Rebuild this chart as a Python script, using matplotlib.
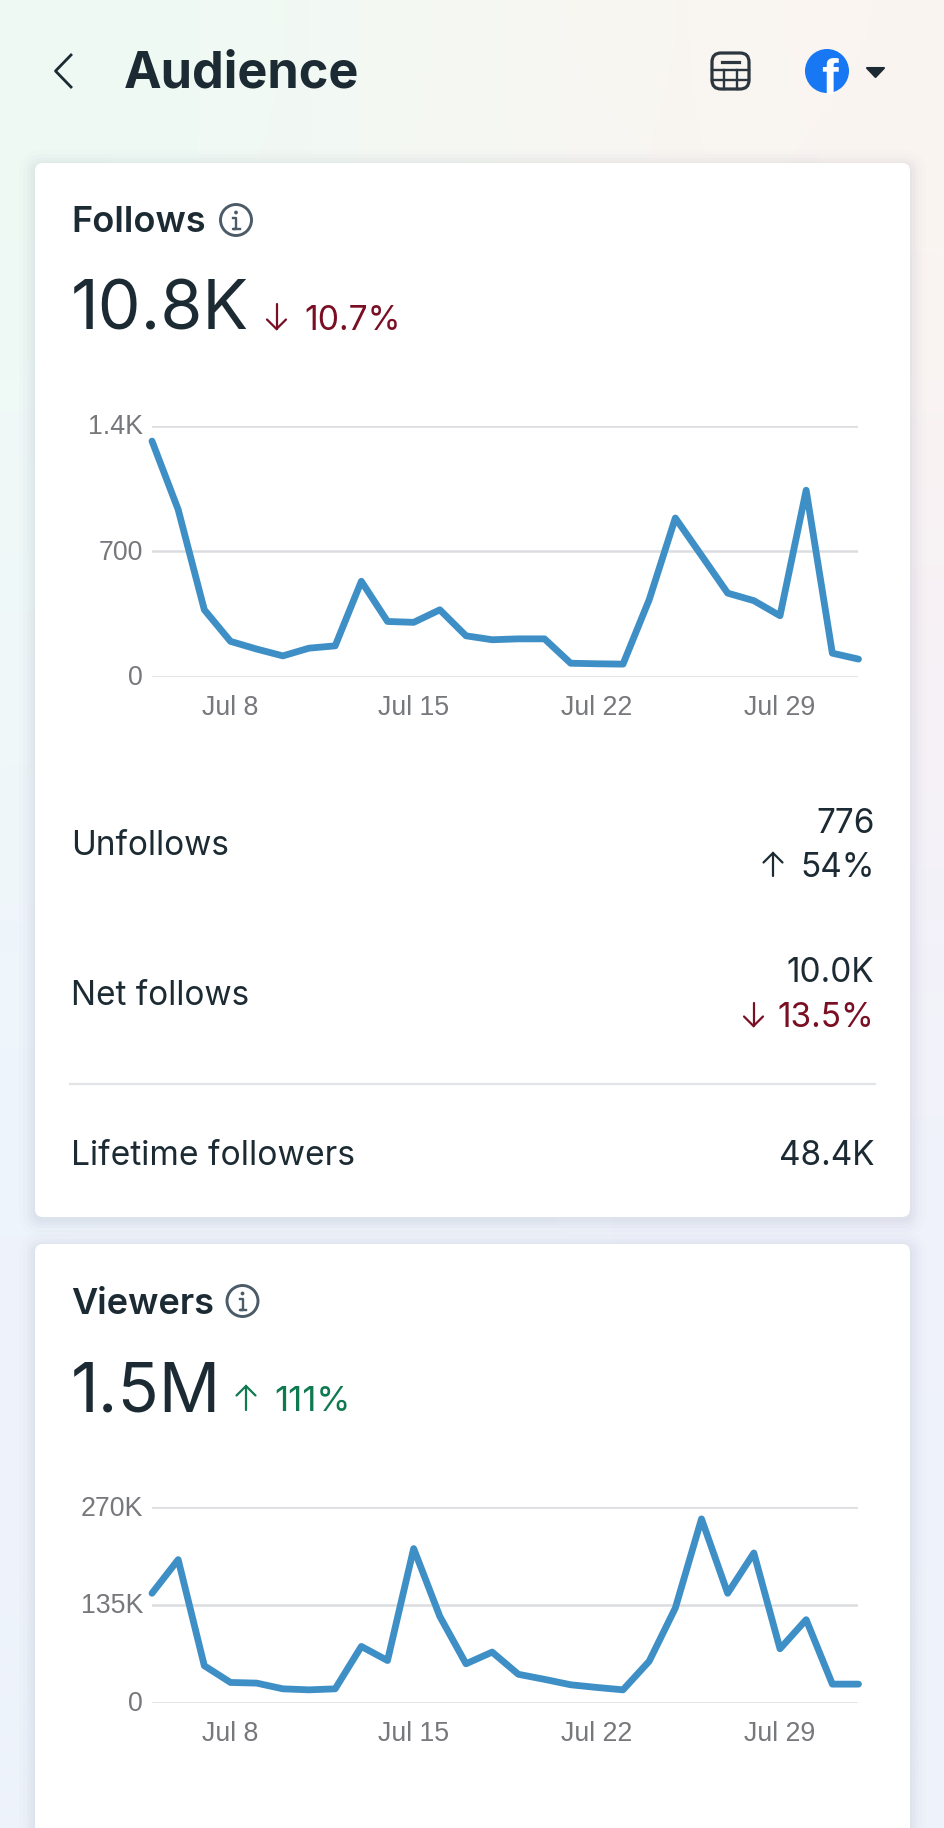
#!/usr/bin/env python3

import numpy as np
import matplotlib
matplotlib.use('Agg')
import matplotlib.pyplot as plt
from matplotlib.patches import Circle, FancyBboxPatch, Polygon
from matplotlib.transforms import ScaledTranslation

# both series run Jul 5 .. Aug 1
days = list(range(5, 33))
tick_days = [8, 15, 22, 29]
tick_labels = ['Jul 8', 'Jul 15', 'Jul 22', 'Jul 29']

follows = [1313, 931, 372, 196, 153, 115, 158, 171, 531, 307, 302, 372, 227, 205,
           210, 210, 74, 71, 69, 428, 884, 675, 465, 423, 339, 1039, 130, 97]
follows_ticks = [0, 700, 1400]
follows_ticklabels = ['0', '700', '1.4K']

viewers = [151000, 197500, 50800, 27700, 26800, 18900, 17500, 18900, 77500, 58000,
           212800, 119000, 53500, 69700, 39000, 32000, 24500, 20800, 17500, 57000,
           130600, 253800, 151000, 206700, 74300, 114500, 25400, 25400]
viewers_ticks = [0, 135000, 270000]
viewers_ticklabels = ['0', '135K', '270K']

W, H = 945, 1828
INK = '#1c2b33'
RED = '#7a0f24'
GREEN = '#0f7a50'
BLUE = '#3f8fc7'
SANS = ['Inter', 'DejaVu Sans']

fig = plt.figure(figsize=(W / 100, H / 100), dpi=100)

# whole page, in pixels with y going down
page = fig.add_axes([0, 0, 1, 1])
page.axis('off')

wash = np.array([
    [[238, 250, 244], [246, 248, 242], [251, 245, 241]],
    [[240, 248, 250], [243, 245, 248], [247, 240, 246]],
    [[238, 244, 252], [238, 243, 251], [240, 243, 252]],
    [[238, 243, 252], [238, 243, 252], [238, 243, 252]],
]) / 255
page.imshow(wash, extent=(0, W, H, 0), aspect='auto', interpolation='bicubic', zorder=0)
page.set_xlim(0, W)
page.set_ylim(H, 0)


def card(x0, y0, x1, y1):
    for grow, alpha in [(16, 0.008), (12, 0.012), (8, 0.014), (5, 0.016), (2, 0.018)]:
        page.add_patch(FancyBboxPatch((x0 - grow, y0 - grow + 3), x1 - x0 + 2 * grow, y1 - y0 + 2 * grow,
                                      boxstyle='round,pad=0,rounding_size=%d' % (8 + grow),
                                      fc='#1c2b55', ec='none', alpha=alpha, zorder=1))
    page.add_patch(FancyBboxPatch((x0, y0), x1 - x0, y1 - y0, boxstyle='round,pad=0,rounding_size=8',
                                  fc='white', ec='none', zorder=2))


def label(x, y, s, size, color=INK, ha='left', weight='normal'):
    page.text(x, y, s, fontsize=size, color=color, ha=ha, va='baseline', weight=weight,
              family=SANS, zorder=5)


def arrow(x, y0, y1, wing, color):
    # thin arrow from y0 (tail) to y1 (head)
    page.plot([x, x], [y0, y1], color=color, lw=1.6, zorder=5, solid_capstyle='round')
    back = y1 + (wing if y1 < y0 else -wing)
    page.plot([x - wing, x, x + wing], [back, y1, back], color=color, lw=1.6, zorder=5,
              solid_capstyle='round', solid_joinstyle='miter')


def info(x, y):
    page.add_patch(Circle((x, y), 15.5, fc='none', ec='#4b5b68', lw=2.1, zorder=5))
    page.add_patch(Circle((x, y - 7.5), 1.9, fc='#4b5b68', ec='none', zorder=5))
    page.plot([x - 3, x, x, x - 3, x + 3.5], [y - 2, y - 2, y + 8.5, y + 8.5, y + 8.5],
              color='#4b5b68', lw=1.7, zorder=5)


def chart(top, zero, values, ticks, ticklabels):
    # top and zero are the pixel rows of the highest gridline and the baseline
    ax = fig.add_axes([152 / W, 1 - zero / H, (858.5 - 152) / W, (zero - top) / H], zorder=3)
    ax.patch.set_alpha(0)
    ax.plot(days, values, color=BLUE, lw=4.9, clip_on=False, solid_joinstyle='round',
            solid_capstyle='round', zorder=3)
    ax.set_xlim(days[0], days[-1])
    ax.set_ylim(ticks[0], ticks[-1])
    ax.set_xticks(tick_days, tick_labels)
    ax.set_yticks(ticks, ticklabels)
    ax.grid(axis='y', color='#dcdde0', lw=1.8)
    ax.set_axisbelow(True)
    for side in ax.spines.values():
        side.set_visible(False)
    ax.tick_params(axis='both', length=0, labelcolor='#77787c', labelsize=19.3)
    ax.tick_params(axis='x', pad=13)
    ax.tick_params(axis='y', pad=6.5)
    nudge = ScaledTranslation(0, -1.5 / 100, fig.dpi_scale_trans)
    for t in ax.get_xticklabels():
        t.set_family(['Liberation Sans', 'DejaVu Sans'])
    for t in ax.get_yticklabels():
        t.set_family(['Liberation Sans', 'DejaVu Sans'])
        t.set_verticalalignment('center')
        t.set_transform(t.get_transform() + nudge)
    return ax


# header
label(124, 87, 'Audience', 36.3, weight='bold')
page.plot([71, 55.5, 71], [55, 71, 87], color=INK, lw=2.0, zorder=5)

page.add_patch(FancyBboxPatch((712, 53), 37, 36, boxstyle='round,pad=0,rounding_size=9',
                              fc='none', ec='#2b363e', lw=2.3, zorder=5))
page.plot([722, 739], [61.5, 61.5], color='#2b363e', lw=2.3, zorder=5)
page.plot([712, 749], [70, 70], color='#2b363e', lw=1.7, zorder=5)
page.plot([712, 749], [79.5, 79.5], color='#2b363e', lw=1.7, zorder=5)
page.plot([724, 724], [70, 89], color='#2b363e', lw=1.7, zorder=5)
page.plot([737, 737], [70, 89], color='#2b363e', lw=1.7, zorder=5)

page.add_patch(Circle((827, 71), 22, fc='#1877f2', ec='none', zorder=5))
page.text(829, 94, 'f', fontsize=36, color='white', ha='center', va='baseline', weight='bold',
          family=['Liberation Sans'], zorder=6, clip_on=True,
          clip_path=Circle((827, 71), 22, transform=page.transData))
page.add_patch(Polygon([(867, 68), (884, 68), (875.5, 77)], closed=True, fc=INK, ec=INK, lw=1.5,
                       joinstyle='round', zorder=5))

# follows card
card(35, 163, 910, 1217)
label(71.5, 232, 'Follows', 26, weight='semibold')
info(236, 220)
label(70.5, 329, '10.8K', 49)
arrow(276.5, 304, 329, 9.5, RED)
label(304, 330, '10.7%', 24.2, color=RED)
chart(425.5, 676.5, follows, follows_ticks, follows_ticklabels)

label(71, 855, 'Unfollows', 24)
label(874.5, 833, '776', 24, ha='right')
arrow(773, 876, 853, 9.5, INK)
label(874.5, 877, '54%', 24, ha='right')

label(71, 1005, 'Net follows', 24)
label(874.5, 982, '10.0K', 24, ha='right')
arrow(753.5, 1003, 1026, 9.5, RED)
label(874.5, 1027, '13.5%', 24, color=RED, ha='right')

page.plot([70, 875], [1084, 1084], color='#e2e4e7', lw=1.6, zorder=5)
label(71, 1165, 'Lifetime followers', 24.2)
label(874.5, 1165, '48.4K', 24, ha='right')

# viewers card runs off the bottom of the page
card(35, 1244, 910, 1850)
label(71, 1314, 'Viewers', 26, weight='semibold')
info(242.5, 1301)
label(70.5, 1411, '1.5M', 49)
arrow(246, 1410, 1386, 9.5, GREEN)
label(274, 1411, '111%', 25, color=GREEN)
chart(1507.2, 1702.5, viewers, viewers_ticks, viewers_ticklabels)

fig.savefig('out.png', dpi=100)
